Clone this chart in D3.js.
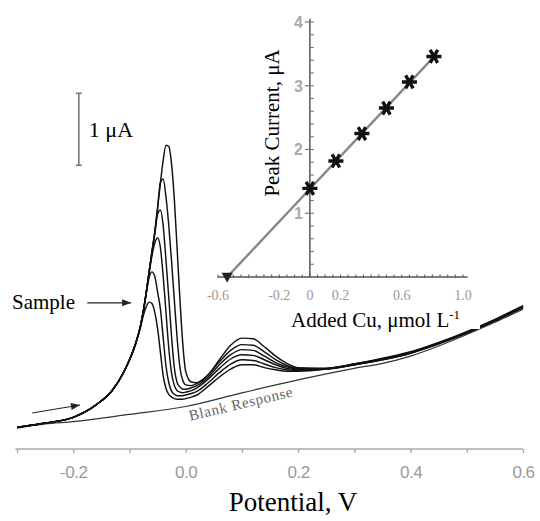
<!DOCTYPE html>
<html><head><meta charset="utf-8">
<script src="https://cdn.jsdelivr.net/npm/d3@7"></script>
<style>body{margin:0;background:#fff} svg{display:block}</style>
</head><body><svg id="c" width="540" height="521"></svg>
<script>
// ---- main voltammograms (potential V, current µA) ----
const potential = [-0.30,-0.25,-0.20,-0.16,-0.13,-0.11,-0.09,-0.08,-0.075,-0.07,-0.065,-0.06,-0.055,-0.05,-0.045,-0.04,-0.035,-0.03,-0.025,-0.02,-0.015,-0.01,-0.005,0.00,0.01,0.02,0.04,0.06,0.08,0.10,0.12,0.14,0.16,0.18,0.20,0.25,0.30,0.35,0.40,0.45,0.50,0.55,0.60];
const sample = [0.30,0.36,0.44,0.61,0.82,1.07,1.44,1.70,1.86,1.98,2.04,2.02,1.90,1.68,1.35,1.02,0.84,0.76,0.72,0.70,0.69,0.69,0.69,0.70,0.72,0.75,0.87,1.00,1.11,1.17,1.17,1.13,1.10,1.08,1.08,1.11,1.17,1.24,1.33,1.46,1.61,1.78,1.96];
const addition1 = [0.30,0.36,0.44,0.61,0.82,1.07,1.44,1.72,1.93,2.16,2.38,2.46,2.40,2.18,1.95,1.55,1.15,0.92,0.80,0.76,0.74,0.74,0.74,0.75,0.77,0.80,0.92,1.06,1.18,1.24,1.23,1.18,1.13,1.10,1.09,1.11,1.17,1.24,1.33,1.46,1.61,1.78,1.97];
const addition2 = [0.30,0.36,0.44,0.61,0.82,1.07,1.44,1.72,1.93,2.18,2.44,2.68,2.86,2.93,2.80,2.40,1.90,1.40,1.05,0.88,0.81,0.79,0.78,0.79,0.81,0.85,0.97,1.12,1.25,1.31,1.30,1.24,1.17,1.12,1.10,1.11,1.17,1.25,1.34,1.47,1.62,1.79,1.97];
const addition3 = [0.30,0.36,0.44,0.61,0.82,1.07,1.44,1.72,1.93,2.18,2.46,2.73,2.98,3.26,3.32,3.10,2.62,2.10,1.55,1.12,0.92,0.86,0.83,0.83,0.85,0.88,1.00,1.17,1.31,1.38,1.37,1.29,1.20,1.14,1.11,1.12,1.18,1.25,1.34,1.47,1.62,1.79,1.98];
const addition4 = [0.30,0.36,0.44,0.61,0.82,1.07,1.44,1.72,1.93,2.18,2.46,2.74,3.01,3.34,3.70,3.75,3.50,3.10,2.60,2.05,1.52,1.12,0.95,0.89,0.88,0.91,1.03,1.21,1.37,1.45,1.44,1.35,1.24,1.16,1.12,1.12,1.18,1.25,1.34,1.47,1.62,1.79,1.98];
const addition5 = [0.30,0.36,0.44,0.61,0.82,1.07,1.44,1.72,1.93,2.18,2.46,2.74,3.01,3.35,3.69,4.01,4.22,4.20,3.95,3.45,2.75,2.05,1.45,1.08,0.93,0.92,1.03,1.24,1.44,1.54,1.53,1.42,1.29,1.19,1.13,1.12,1.18,1.26,1.35,1.48,1.63,1.80,1.99];
const blankPotential = [-0.30,-0.25,-0.20,-0.10,0.00,0.10,0.20,0.30,0.35,0.40,0.45,0.50,0.55,0.60];
const blankCurrent = [0.29,0.35,0.38,0.48,0.59,0.78,0.96,1.12,1.19,1.29,1.43,1.59,1.76,1.94];
const xTicks = [-0.3,-0.2,-0.1,0.0,0.1,0.2,0.3,0.4,0.5,0.6];
const xTickLabels = {"-0.2":"-0.2","0":"0.0","0.2":"0.2","0.4":"0.4","0.6":"0.6"};

// ---- inset: standard addition plot ----
const addedCu = [0, 0.17, 0.34, 0.50, 0.65, 0.81];
const peakCurrent = [1.39, 1.82, 2.25, 2.65, 3.06, 3.46];
const xIntercept = -0.54;
const fitLine = [[-0.54, 0], [0.82, 3.48]];
const insetXLabelValues = [-0.6, -0.2, 0, 0.2, 0.6, 1.0];
const insetXLabels = ["-0.6", "-0.2", "0", "0.2", "0.6", "1.0"];
const insetYLabels = [1, 2, 3, 4];

// ---- annotations (data coordinates) ----
const scaleBar = [-0.19, 3.94, 4.94];
const sampleArrow = [[-0.175, 2.03], [-0.097, 2.03]];
const scanArrow = [[-0.273, 0.50], [-0.188, 0.61]];

const serif = "'Liberation Serif','Times New Roman',serif";
const sans = "'Liberation Sans',Arial,sans-serif";
const svg = d3.select("#c");
const x = d3.scaleLinear().domain([-0.3, 0.6]).range([17, 523]);
const y = d3.scaleLinear().domain([0, 6]).range([449, 17]);

// x axis
const ax = svg.append("g").attr("transform", `translate(0,${y(0)})`)
  .call(d3.axisBottom(x).tickValues(xTicks).tickSize(4).tickSizeOuter(0).tickPadding(13)
    .tickFormat(d => xTickLabels[String(+d.toFixed(1))] || ""));
ax.select(".domain").attr("stroke", "#aaa").attr("stroke-width", 1.6).attr("d", `M${x(-0.303)},0H${x(0.6)}`);
ax.selectAll(".tick line").attr("stroke", "#aaa").attr("stroke-width", 1.3);
ax.selectAll(".tick text").attr("fill", "#999").attr("font-family", sans).attr("font-size", 17).attr("letter-spacing", "-0.5");

svg.append("text").attr("x", 293).attr("y", 511).attr("text-anchor", "middle")
  .attr("font-family", serif).attr("font-size", 27).text("Potential, V");

// curves
const line = d3.line().x(d => x(d[0])).y(d => y(d[1])).curve(d3.curveMonotoneX);
svg.append("path").attr("d", line(blankPotential.map((p, i) => [p, blankCurrent[i]])))
  .attr("fill", "none").attr("stroke", "#333").attr("stroke-width", 1.2);
[sample, addition1, addition2, addition3, addition4, addition5].forEach(s => {
  svg.append("path").attr("d", line(potential.map((p, i) => [p, s[i]])))
    .attr("fill", "none").attr("stroke", "#111").attr("stroke-width", 1.45);
});

// Blank response label
{
  const p0 = [x(0.0), y(0.59)], p1 = [x(0.2), y(0.96)];
  const ang = Math.atan2(p1[1] - p0[1], p1[0] - p0[0]) * 180 / Math.PI;
  svg.append("text").attr("transform", `translate(${x(0.008)},${y(0.60) + 15}) rotate(${ang})`)
    .attr("font-family", serif).attr("font-size", 15).attr("fill", "#666")
    .attr("textLength", 106).text("Blank Response");
}

// arrow helper
function arrow(pts, w) {
  const [a, b] = pts.map(d => [x(d[0]), y(d[1])]);
  svg.append("line").attr("x1", a[0]).attr("y1", a[1]).attr("x2", b[0]).attr("y2", b[1])
    .attr("stroke", "#222").attr("stroke-width", w);
  const ang = Math.atan2(b[1] - a[1], b[0] - a[0]) * 180 / Math.PI;
  svg.append("path").attr("d", "M0,0L-9,-3.5L-9,3.5Z").attr("fill", "#222")
    .attr("transform", `translate(${b[0]},${b[1]}) rotate(${ang})`);
}
arrow(sampleArrow, 1.3);
arrow(scanArrow, 1.1);

svg.append("text").attr("x", 12).attr("y", 309).attr("font-family", serif).attr("font-size", 21).text("Sample");

// scale bar
{
  const bx = x(scaleBar[0]);
  const g = svg.append("g").attr("stroke", "#777").attr("stroke-width", 1.6);
  g.append("line").attr("x1", bx).attr("x2", bx).attr("y1", y(scaleBar[1])).attr("y2", y(scaleBar[2]));
  g.append("line").attr("x1", bx - 3).attr("x2", bx + 3).attr("y1", y(scaleBar[1])).attr("y2", y(scaleBar[1]));
  g.append("line").attr("x1", bx - 3).attr("x2", bx + 3).attr("y1", y(scaleBar[2])).attr("y2", y(scaleBar[2]));
  svg.append("text").attr("x", bx + 10).attr("y", 137).attr("font-family", serif).attr("font-size", 22).text("1 μA");
}

// ---- inset ----
const xi = d3.scaleLinear().domain([-0.6, 1.0]).range([218, 463]);
const yi = d3.scaleLinear().domain([0, 4]).range([277, 22]);

// label for inset x with white backing
svg.append("rect").attr("x", 284).attr("y", 305).attr("width", 196).attr("height", 24).attr("fill", "#fff");
const xl = svg.append("text").attr("x", 291).attr("y", 327).attr("font-family", serif).attr("font-size", 21);
xl.append("tspan").text("Added Cu, μmol L");
xl.append("tspan").attr("font-size", 13).attr("dy", -8).text("-1");

svg.append("text").attr("transform", "translate(279,123) rotate(-90)").attr("text-anchor", "middle")
  .attr("font-family", serif).attr("font-size", 21).text("Peak Current, μA");

const ig = svg.append("g");
// x axis of inset
ig.append("line").attr("x1", xi(-0.6)).attr("x2", xi(1.03)).attr("y1", yi(0)).attr("y2", yi(0))
  .attr("stroke", "#555").attr("stroke-width", 1.5);
ig.selectAll(".xt").data(d3.range(-12, 21).map(k => k * 0.05)).join("line")
  .attr("x1", d => xi(d)).attr("x2", d => xi(d)).attr("y1", yi(0) - 2.5).attr("y2", yi(0) + 1)
  .attr("stroke", "#666").attr("stroke-width", 1.2);
ig.selectAll(".xl").data(insetXLabelValues).join("text")
  .attr("x", d => xi(d)).attr("y", 300).attr("text-anchor", "middle")
  .attr("font-family", serif).attr("font-size", 14).attr("fill", "#999")
  .text((d, i) => insetXLabels[i]);
// y axis of inset
ig.append("line").attr("x1", xi(0)).attr("x2", xi(0)).attr("y1", yi(0)).attr("y2", yi(4.05))
  .attr("stroke", "#555").attr("stroke-width", 1.5);
ig.selectAll(".ym").data(d3.range(1, 21).map(k => k * 0.2)).join("line")
  .attr("x1", xi(0)).attr("x2", xi(0) + 4).attr("y1", d => yi(d)).attr("y2", d => yi(d))
  .attr("stroke", "#777").attr("stroke-width", 1.1);
ig.selectAll(".yM").data(insetYLabels).join("line")
  .attr("x1", xi(0) - 5).attr("x2", xi(0)).attr("y1", d => yi(d)).attr("y2", d => yi(d))
  .attr("stroke", "#777").attr("stroke-width", 1.2);
ig.selectAll(".yl").data(insetYLabels).join("text")
  .attr("x", xi(0) - 7).attr("y", d => yi(d)).attr("dy", "0.36em").attr("text-anchor", "end")
  .attr("font-family", sans).attr("font-weight", "bold").attr("font-size", 16).attr("fill", "#aaa")
  .text(d => d);

// regression line
ig.append("line").attr("x1", xi(fitLine[0][0])).attr("y1", yi(fitLine[0][1]))
  .attr("x2", xi(fitLine[1][0])).attr("y2", yi(fitLine[1][1]))
  .attr("stroke", "#888").attr("stroke-width", 2.4);
// x-intercept marker
ig.append("path").attr("d", d3.symbol(d3.symbolTriangle, 55)())
  .attr("transform", `translate(${xi(xIntercept)},${yi(0) - 1}) rotate(180)`).attr("fill", "#222");
// star markers
ig.selectAll(".st").data(addedCu).join("path")
  .attr("d", d3.symbol(d3.symbolAsterisk, 160)())
  .attr("transform", (d, i) => `translate(${xi(d)},${yi(peakCurrent[i])}) rotate(90)`)
  .attr("fill", "none").attr("stroke", "#111").attr("stroke-width", 3.4);
</script>
</body></html>
